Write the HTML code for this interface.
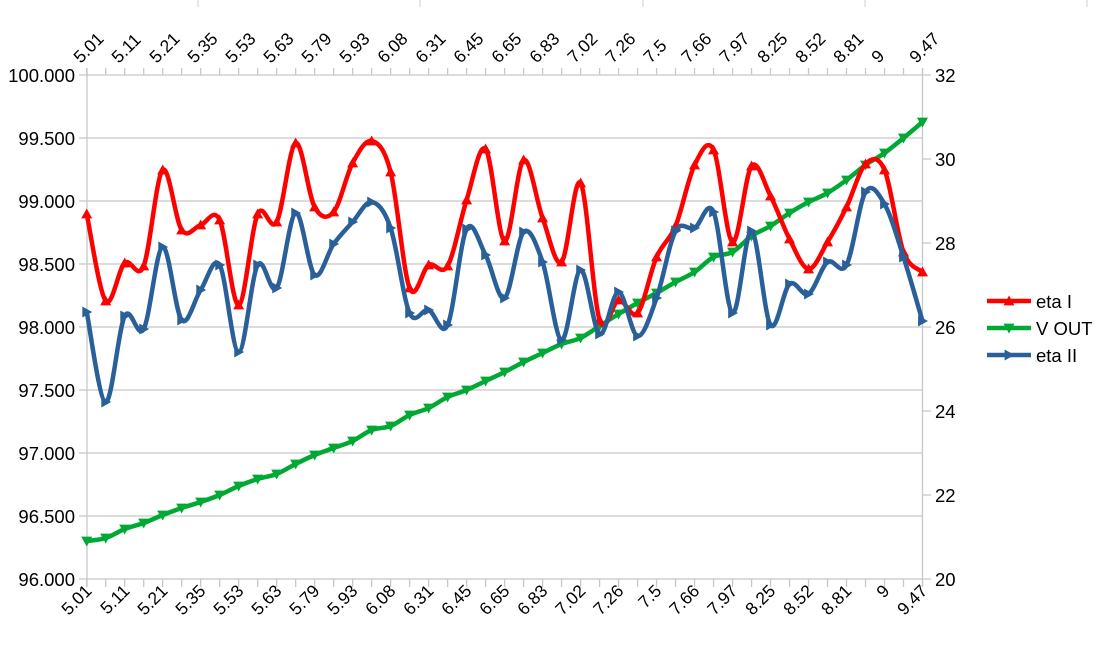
<!DOCTYPE html>
<html><head><meta charset="utf-8"><style>
html,body{margin:0;padding:0;background:#fff;}
svg{display:block;font-family:"Liberation Sans",sans-serif;}
</style></head><body>
<svg id="s" width="1101" height="648" xmlns="http://www.w3.org/2000/svg"></svg>
<script>
const s=document.getElementById('s');
let h='';
const X0=86.7,DX=(922.5-86.7)/44;
for(let i=0;i<9;i++){const y=75+i*63;h+=`<line x1="79" y1="${y}" x2="922" y2="${y}" stroke="#c8c8c8" stroke-width="1.3"/>`;
h+=`<text x="75" y="${y+7}" font-size="18.5" text-anchor="end" fill="#000">${(100-i*0.5).toFixed(3)}</text>`;}
for(let i=0;i<7;i++){const y=75+i*84;h+=`<line x1="922" y1="${y}" x2="931" y2="${y}" stroke="#c8c8c8" stroke-width="1.3"/>`;
h+=`<text x="935" y="${y+7}" font-size="18.5" fill="#000">${32-i*2}</text>`;}
h+=`<line x1="87" y1="68" x2="87" y2="587" stroke="#c8c8c8" stroke-width="1.3"/>`;
h+=`<line x1="922.5" y1="68" x2="922.5" y2="587" stroke="#c8c8c8" stroke-width="1.3"/>`;
for(let i=0;i<45;i++){const x=X0+i*DX;h+=`<line x1="${x}" y1="68" x2="${x}" y2="75" stroke="#c8c8c8" stroke-width="1.3"/><line x1="${x}" y1="579" x2="${x}" y2="587" stroke="#c8c8c8" stroke-width="1.3"/>`;}
[198,420,643,865,1087].forEach(x=>h+=`<line x1="${x}" y1="0" x2="${x}" y2="7" stroke="#ccc"/>`);
const labs=["5.01","5.11","5.21","5.35","5.53","5.63","5.79","5.93","6.08","6.31","6.45","6.65","6.83","7.02","7.26","7.5","7.66","7.97","8.25","8.52","8.81","9","9.47"];
labs.forEach((l,k)=>{const x=X0+k*2*DX;
h+=`<text transform="translate(${x-6},${64}) rotate(-45)" font-size="17.5" fill="#000">${l}</text>`;
h+=`<text transform="translate(${x+6},${592}) rotate(-45)" font-size="17.5" text-anchor="end" fill="#000">${l}</text>`;});
const red=[214,301,263,266,170,230,225,220,305,214,222,143,207,212,163,141,172,288,265,266,200,149,241,160,218,262,183,320,300,313,257,226,165,150,242,166,196,239,269,242,207,164,170,252,272];
const blue=[312,402,316,329,247,320,290,265,352,265,288,213,275,244,222,202,228,313,310,325,229,255,298,232,262,340,270,334,292,336,298,231,228,212,313,231,325,284,294,262,265,192,204,257,321];
const green=[541,538,529,523,515,508,502,495,486,479,474,464,455,448,441,430,426,415,408,397,390,381,372,362,353,344,338,326,314,303,293,282,272,257,252,236,226,213,202,193,180,165,153,138,122];
function path(ys){const p=ys.map((y,i)=>[X0+i*DX,y]);let d=`M${p[0][0]},${p[0][1]}`;
for(let i=0;i<p.length-1;i++){const a=p[Math.max(0,i-1)],b=p[i],c=p[i+1],e=p[Math.min(p.length-1,i+2)];
const c1=[b[0]+(c[0]-a[0])/6,b[1]+(c[1]-a[1])/6],c2=[c[0]-(e[0]-b[0])/6,c[1]-(e[1]-b[1])/6];
d+=` C${c1[0].toFixed(1)},${c1[1].toFixed(1)} ${c2[0].toFixed(1)},${c2[1].toFixed(1)} ${c[0].toFixed(1)},${c[1].toFixed(1)}`;}return d;}
function mk(x,y,t,c){const r=5.5;let pts;
if(t==0)pts=`${x},${y-r} ${x+r},${y+r*0.8} ${x-r},${y+r*0.8}`;
else if(t==1)pts=`${x},${y+r} ${x+r},${y-r*0.8} ${x-r},${y-r*0.8}`;
else pts=`${x+r},${y} ${x-r*0.8},${y-r} ${x-r*0.8},${y+r}`;
return `<polygon points="${pts}" fill="${c}"/>`;}
[[green,'#00a933',1],[red,'#ff0000',0],[blue,'#2a6099',2]].forEach(([ys,c,t])=>{
h+=`<path d="${path(ys)}" fill="none" stroke="${c}" stroke-width="4.5" stroke-linejoin="round"/>`;
ys.forEach((y,i)=>h+=mk(X0+i*DX,y,t,c));});
[['eta I','#ff0000',0,301],['V OUT','#00a933',1,328],['eta II','#2a6099',2,355]].forEach(([n,c,t,y])=>{
h+=`<line x1="987" y1="${y}" x2="1031" y2="${y}" stroke="${c}" stroke-width="4.5"/>`+mk(1009,y,t,c)+`<text x="1036" y="${y+7}" font-size="18.5" fill="#000">${n}</text>`;});
s.innerHTML=h;
</script>
</body></html>
